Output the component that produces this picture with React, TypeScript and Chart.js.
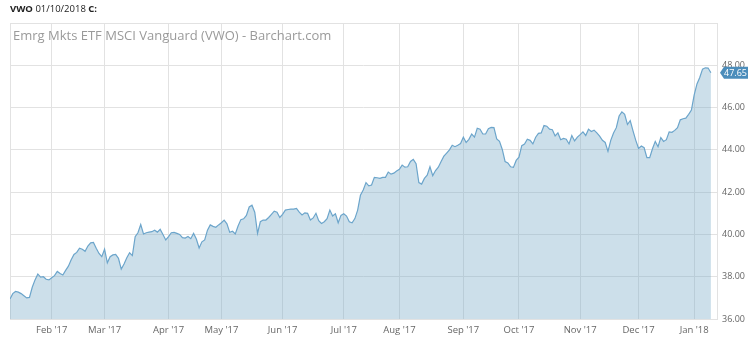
import React, { useEffect, useRef } from "react";
import { Chart, registerables } from "chart.js";

Chart.register(...registerables);

const FONT = "'Open Sans', 'Noto Sans', sans-serif";

// Daily closes, one small array per month (trading days)
const jan17 = [36.95, 37.2, 37.3, 37.27, 37.2, 37.1, 37.0, 37.02, 37.5, 37.85, 38.13, 37.98, 38.0, 37.88, 37.85];
const feb17 = [37.95, 38.05, 38.25, 38.15, 38.08, 38.3, 38.5, 38.8, 39.05, 39.15, 39.35, 39.3, 39.2, 39.45, 39.6, 39.62, 39.35, 39.1, 38.95];
const mar17 = [39.3, 38.66, 38.95, 39.03, 39.06, 38.87, 38.36, 38.6, 38.9, 39.13, 39.0, 39.89, 40.08, 40.47, 40.02, 40.08, 40.11, 40.13, 40.2, 40.11, 40.24, 40.0, 39.74];
const apr17 = [39.9, 40.08, 40.1, 40.05, 40.0, 39.85, 39.83, 39.9, 39.8, 40.05, 39.78, 39.36, 39.65, 39.74, 40.2, 40.45, 40.38, 40.34, 40.45];
const may17 = [40.55, 40.68, 40.5, 40.1, 40.15, 40.02, 40.4, 40.7, 40.74, 40.9, 41.3, 41.38, 41.05, 40.05, 40.6, 40.68, 40.68, 40.8, 40.95, 41.1, 41.05, 40.8];
const jun17 = [40.95, 41.15, 41.18, 41.2, 41.2, 41.23, 41.05, 40.92, 41.02, 41.0, 40.68, 40.78, 41.0, 40.65, 40.52, 40.6, 40.75, 41.15, 40.87, 40.98, 40.55, 40.9];
const jul17 = [40.98, 40.87, 40.6, 40.55, 40.75, 41.15, 41.85, 42.1, 42.45, 42.3, 42.34, 42.7, 42.68, 42.65, 42.7, 42.7, 42.95, 42.85, 42.9, 43.0];
const aug17 = [43.08, 43.28, 43.18, 43.2, 43.45, 43.55, 43.35, 42.45, 42.38, 42.65, 42.8, 43.2, 42.78, 43.02, 43.18, 43.45, 43.7, 43.85, 44.0, 44.22, 44.15, 44.22, 44.3];
const sep17 = [44.6, 44.35, 44.5, 44.75, 44.6, 45.02, 44.98, 44.75, 44.75, 45.0, 45.06, 45.05, 44.52, 44.4, 44.02, 43.45, 43.38, 43.2, 43.17, 43.5];
const oct17 = [43.65, 44.2, 44.27, 44.5, 44.45, 44.28, 44.6, 44.78, 44.8, 45.15, 45.12, 44.98, 44.95, 44.66, 44.8, 44.48, 44.54, 44.5, 44.28, 44.68, 44.42, 44.6];
const nov17 = [44.72, 44.85, 44.68, 44.98, 44.87, 44.93, 44.8, 44.65, 44.45, 44.35, 43.93, 44.45, 44.8, 45.05, 45.6, 45.8, 45.68, 45.2, 45.38, 44.9, 44.45];
const dec17 = [44.07, 44.18, 44.1, 43.63, 43.63, 44.05, 44.4, 44.15, 44.58, 44.4, 44.48, 44.85, 44.83, 44.92, 45.05, 45.42, 45.47, 45.5, 45.68, 45.88];
const jan18 = [46.6, 47.12, 47.42, 47.82, 47.88, 47.87, 47.65];

const monthLabels = ["Feb '17", "Mar '17", "Apr '17", "May '17", "Jun '17", "Jul '17", "Aug '17", "Sep '17", "Oct '17", "Nov '17", "Dec '17", "Jan '18"];
const yTicks = [36, 38, 40, 42, 44, 46, 48, 50];
const lastPrice = 47.65;
const chartTitle = "Emrg Mkts ETF MSCI Vanguard (VWO) - Barchart.com";

export default function App() {
  const ref = useRef<HTMLCanvasElement>(null);

  useEffect(() => {
    const months = [jan17, feb17, mar17, apr17, may17, jun17, jul17, aug17, sep17, oct17, nov17, dec17, jan18];
    const values = months.flat();
    const starts: number[] = [];
    let acc = 0;
    months.forEach((m, i) => {
      if (i > 0) starts.push(acc);
      acc += m.length;
    });
    const data = values.map((v, i) => ({ x: i, y: v }));

    const decor = {
      id: "decor",
      beforeDatasetsDraw(chart: any) {
        const { ctx, chartArea } = chart;
        ctx.save();
        ctx.strokeStyle = "#e2e2e2";
        ctx.lineWidth = 1;
        ctx.strokeRect(Math.round(chartArea.left) + 0.5, Math.round(chartArea.top) + 0.5, Math.round(chartArea.right - chartArea.left), Math.round(chartArea.bottom - chartArea.top));
        ctx.restore();
      },
      afterDraw(chart: any) {
        const { ctx, chartArea, scales } = chart;
        ctx.save();
        ctx.fillStyle = "#9a9a9a";
        ctx.font = `13px ${FONT}`;
        ctx.textBaseline = "alphabetic";
        ctx.textAlign = "left";
        ctx.fillText(chartTitle, chartArea.left + 3, chartArea.top + 17);

        const y = scales.y.getPixelForValue(lastPrice);
        const x0 = chartArea.right + 3;
        ctx.fillStyle = "#4b8dbb";
        ctx.beginPath();
        ctx.moveTo(x0, y);
        ctx.lineTo(x0 + 4, y - 6);
        ctx.lineTo(748, y - 6);
        ctx.lineTo(748, y + 6);
        ctx.lineTo(x0 + 4, y + 6);
        ctx.closePath();
        ctx.fill();
        ctx.fillStyle = "#ffffff";
        ctx.font = `9px ${FONT}`;
        ctx.textBaseline = "middle";
        ctx.fillText(lastPrice.toFixed(2), x0 + 4, y + 0.5);
        ctx.restore();
      },
    };

    const chart = new Chart(ref.current as HTMLCanvasElement, {
      type: "line",
      data: {
        datasets: [
          {
            data,
            borderColor: "rgb(108,165,203)",
            borderWidth: 1.2,
            backgroundColor: "rgba(120,170,200,0.38)",
            fill: "start",
            pointRadius: 0,
            tension: 0,
          },
        ],
      },
      options: {
        animation: false,
        responsive: false,
        layout: { padding: { left: 10, top: 23, right: 0, bottom: 0 } },
        plugins: { legend: { display: false }, tooltip: { enabled: false }, title: { display: false } },
        scales: {
          x: {
            type: "linear",
            min: 0,
            max: 254.2,
            grid: { color: "#e2e2e2", drawTicks: false },
            border: { display: false },
            ticks: {
              autoSkip: false,
              maxRotation: 0,
              padding: 6,
              color: "#666",
              font: { family: FONT, size: 9.5 },
              callback: (v: any) => {
                const k = starts.indexOf(Number(v));
                return k >= 0 ? monthLabels[k] : "";
              },
            },
            afterBuildTicks: (s: any) => {
              s.ticks = starts.map((v) => ({ value: v }));
            },
            afterFit: (s: any) => {
              s.height = 20;
            },
          },
          y: {
            position: "right",
            min: 36,
            max: 50,
            grid: { color: "#e2e2e2", drawTicks: false },
            border: { display: false },
            ticks: {
              padding: 5,
              color: "#666",
              font: { family: FONT, size: 9 },
              callback: (v: any) => (Number(v) === 50 ? "" : Number(v).toFixed(2)),
            },
            afterBuildTicks: (s: any) => {
              s.ticks = yTicks.map((v) => ({ value: v }));
            },
            afterFit: (s: any) => {
              s.width = 33;
            },
          },
        },
      },
      plugins: [decor],
    });
    return () => chart.destroy();
  }, []);

  return (
    <div style={{ position: "fixed", left: 0, top: 0, width: 750, height: 339, background: "#fff", overflow: "hidden" }}>
      <canvas ref={ref} width={750} height={339} style={{ position: "absolute", left: 0, top: 0, width: 750, height: 339 }} />
      <div style={{ position: "absolute", left: 10, top: 2, fontFamily: FONT, fontSize: 9.5, lineHeight: "14px", color: "#222", whiteSpace: "nowrap" }}>
        <b>VWO</b> 01/10/2018 <b>C:</b>
      </div>
    </div>
  );
}
